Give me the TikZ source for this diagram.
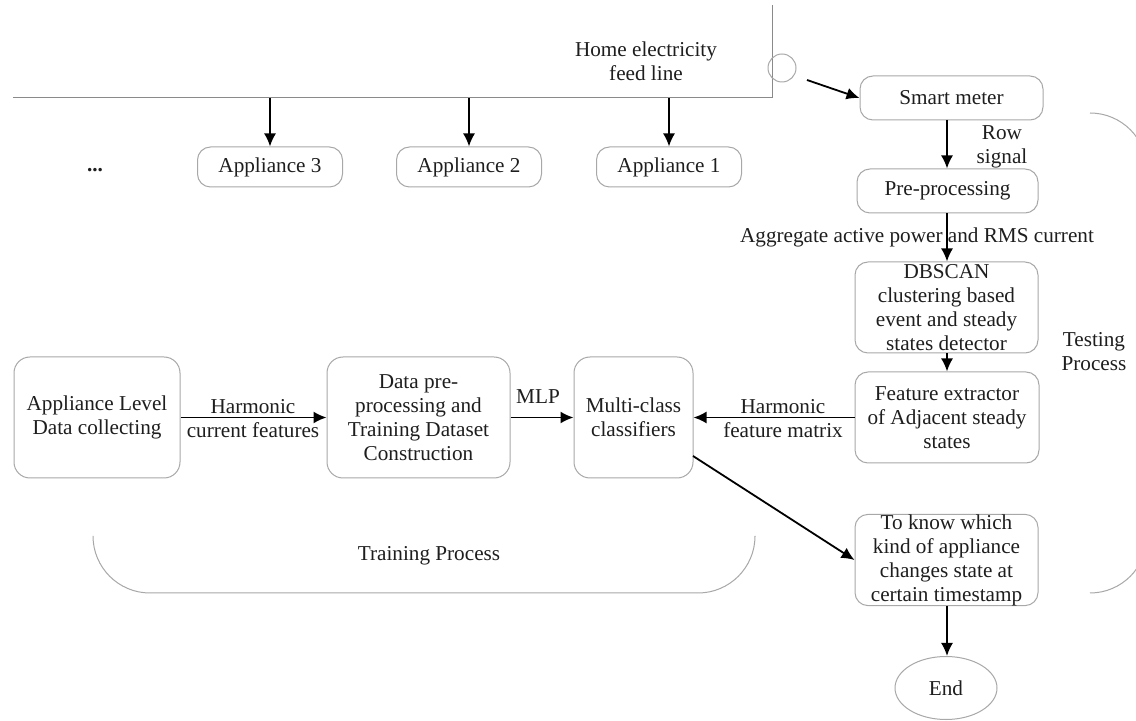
\documentclass[tikz,border=0pt]{standalone}
\usepackage{fontspec}
\setmainfont{Liberation Serif}
\usetikzlibrary{arrows.meta,shapes.geometric}
\definecolor{boxgray}{HTML}{A8A8A8}
\definecolor{linegray}{HTML}{8A8A8A}
\definecolor{txt}{HTML}{1E1E1E}
\begin{document}
\begin{tikzpicture}[x=0.5pt,y=-0.5pt,
  every node/.style={font=\fontsize{10.6}{12}\selectfont, text=txt},
  box/.style={draw=boxgray, line width=0.5pt, rounded corners=6.5pt, align=center, inner sep=0pt},
  ovalbox/.style={draw=boxgray, line width=0.5pt, ellipse, inner sep=0pt, align=center},
  lbl/.style={align=center, inner sep=0pt},
  arr/.style={draw=black, line width=0.9pt, -{Latex[length=6.5pt,width=6pt]}},
  feed/.style={draw=linegray, line width=0.5pt},
  bracket/.style={draw=boxgray, line width=0.5pt, rounded corners=28.5pt}]
\useasboundingbox (0,0) rectangle (1136,721);
\fill[white] (0,0) rectangle (1136,721);

% feed line
\coordinate (fl0) at (13,98);
\coordinate (flc) at (772,98);
\coordinate (fltop) at (772,5);
\draw[feed] (fl0) -- (flc) -- (fltop);
\node[draw=boxgray, line width=0.5pt, circle, minimum size=14pt, inner sep=0pt] (meter) at (782,68) {};
\node[lbl] (home) at (646,61) {Home electricity\\feed line};

% appliances
\node[box, minimum width=72.5pt, minimum height=20pt] (app3) at (270,167) {Appliance 3};
\node[box, minimum width=72.5pt, minimum height=20pt] (app2) at (469,167) {Appliance 2};
\node[box, minimum width=72.5pt, minimum height=20pt] (app1) at (669,167) {Appliance 1};
\node[lbl] (dots) at (95,170) {\textbf{...}};
\coordinate (t3) at (270,98);
\coordinate (t2) at (469,98);
\coordinate (t1) at (669,98);
\draw[arr] (t3) -- (app3);
\draw[arr] (t2) -- (app2);
\draw[arr] (t1) -- (app1);

% testing column
\node[box, minimum width=91.5pt, minimum height=22pt] (smart) at (951.5,98) {Smart meter};
\coordinate (ms) at (807,80);
\draw[arr] (ms) -- (smart.west);
\node[box, minimum width=90.5pt, minimum height=22pt] (pre) at (947.5,191) {Pre-processing};
\coordinate (smb) at (947,120);
\draw[arr] (smb) -- (pre.north -| smb);
\node[lbl] (row) at (1002,147) {Row\\signal};
\node[box, minimum width=91.5pt, minimum height=45.5pt] (dbscan) at (946.5,307.5) {DBSCAN\\clustering based\\event and steady\\states detector};
\draw[arr] (pre.south -| 947,0) -- (dbscan.north -| 947,0);
\node[lbl] (agg) at (917,237) {Aggregate active power and RMS current};
\node[box, minimum width=92pt, minimum height=45.5pt] (feat) at (947,417.5) {Feature extractor\\of Adjacent steady\\states};
\draw[arr] (dbscan.south -| 947,0) -- (feat.north -| 947,0);
\node[box, minimum width=91.5pt, minimum height=45pt] (know) at (946.5,560) {To know which\\kind of appliance\\changes state at\\certain timestamp};
\node[ovalbox, minimum width=51pt, minimum height=31.5pt] (end) at (946,688) {End};
\draw[arr] (know.south -| 947,0) -- (end.north -| 947,0);
\node[lbl] (testing) at (1094,352) {Testing\\Process};

% training row
\node[box, minimum width=83pt, minimum height=60.5pt, rounded corners=8pt] (alc) at (97,417.5) {Appliance Level\\Data collecting};
\node[box, minimum width=91.5pt, minimum height=60.5pt, rounded corners=8pt] (dpp) at (418.5,417.5) {Data pre-\\processing and\\Training Dataset\\Construction};
\node[box, minimum width=59.5pt, minimum height=60.5pt, rounded corners=8pt] (mcc) at (633.5,417.5) {Multi-class\\classifiers};
\draw[arr] (alc) -- (dpp);
\node[lbl] (hcf) at (253,418.5) {Harmonic\\current features};
\draw[arr] (dpp) -- (mcc);
\node[lbl] (mlp) at (538,397) {MLP};
\draw[arr] (feat) -- (mcc);
\node[lbl] (hfm) at (783,418.5) {Harmonic\\feature matrix};
\coordinate (diag) at (693,456);
\draw[arr] (diag) -- (know.west);
\node[lbl] (training) at (429,556) {Training Process};

% brackets
\coordinate (b1) at (93,537);
\coordinate (b2) at (93,593);
\coordinate (b3) at (755,593);
\coordinate (b4) at (755,537);
\draw[bracket] (b1) -- (b2) -- (b3) -- (b4);
\coordinate (c1) at (1090,113);
\coordinate (c2) at (1147,113);
\coordinate (c3) at (1147,593);
\coordinate (c4) at (1090,593);
\draw[bracket] (c1) -- (c2) -- (c3) -- (c4);
\end{tikzpicture}
\end{document}
